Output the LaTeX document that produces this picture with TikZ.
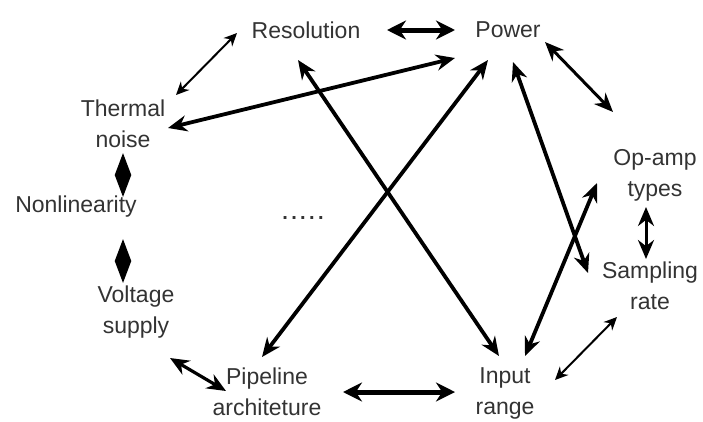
\documentclass[tikz,border=0pt]{standalone}
\usepackage{fontspec}
\setmainfont{Liberation Sans}
\usetikzlibrary{arrows.meta}
\begin{document}
\begin{tikzpicture}[x=1pt,y=-1pt,
  lbl/.style={text=black!80, font=\fontsize{23}{31}\selectfont, align=center, inner sep=0pt},
  heavy/.style={line width=5pt, {Stealth[length=19pt,width=19pt]}-{Stealth[length=19pt,width=19pt]}},
  bold/.style={line width=3.8pt, {Stealth[length=19pt,width=16pt]}-{Stealth[length=19pt,width=16pt]}},
  light/.style={line width=2pt, {Stealth[length=13pt,width=12pt]}-{Stealth[length=13pt,width=12pt]}},
  twin/.style={line width=2pt, {Stealth[length=22pt,width=16pt,inset=0pt]}-{Stealth[length=22pt,width=16pt,inset=0pt]}},
]
\useasboundingbox (0,0) rectangle (703,421);

% factors
\node[lbl] (res)  at (306,30)  {Resolution};
\node[lbl] (pow)  at (508,30)  {Power};
\node[lbl] (therm) at (123,124) {Thermal\\noise};
\node[lbl] (nonl) at (76,207)  {Nonlinearity};
\node[lbl] (volt) at (136,312) {Voltage\\supply};
\node[lbl] (pipe) at (267,392) {Pipeline\\architeture};
\node[lbl] (inp)  at (505,393) {Input\\range};
\node[lbl] (samp) at (650,286) {Sampling\\rate};
\node[lbl] (opamp) at (655,175) {Op-amp\\types};
\node[lbl, font=\bfseries\fontsize{20}{24}\selectfont] (more) at (303,218) {.\,.\,.\,.\,.};

% connector end points
\coordinate (resE) at (387,30);   \coordinate (powW) at (455,30);
\coordinate (resSW) at (237,33);  \coordinate (thermNE) at (176,95);
\coordinate (thermE) at (168,128); \coordinate (powSW) at (455,58);
\coordinate (resS) at (298,60);   \coordinate (inpNW) at (499,356);
\coordinate (pipeN) at (262,357); \coordinate (powS) at (488,60);
\coordinate (powSE) at (513,62);  \coordinate (sampNW) at (588,273);
\coordinate (inpN) at (525,356);  \coordinate (opampW) at (597,183);
\coordinate (powE) at (545,42);   \coordinate (opampNW) at (613,112);
\coordinate (opampS) at (646,207); \coordinate (sampN) at (646,259);
\coordinate (sampSW) at (617,317); \coordinate (inpE) at (555,380);
\coordinate (pipeE) at (343,392); \coordinate (inpW) at (455,392);
\coordinate (voltSE) at (170,358); \coordinate (pipeW) at (226,391);
\coordinate (thermS) at (123,153); \coordinate (nonlN) at (123,197);
\coordinate (nonlS) at (123,239); \coordinate (voltN) at (123,283);

% relations
\draw[heavy] (resE) -- (powW);
\draw[light] (resSW) -- (thermNE);
\draw[bold] (thermE) -- (powSW);
\draw[bold] (resS) -- (inpNW);
\draw[bold] (pipeN) -- (powS);
\draw[bold] (powSE) -- (sampNW);
\draw[bold] (inpN) -- (opampW);
\draw[bold, line width=3pt] (powE) -- (opampNW);
\draw[bold, line width=3pt] (opampS) -- (sampN);
\draw[light] (sampSW) -- (inpE);
\draw[heavy] (pipeE) -- (inpW);
\draw[bold, line width=3.2pt] (voltSE) -- (pipeW);
\draw[twin] (thermS) -- (nonlN);
\draw[twin] (nonlS) -- (voltN);
\end{tikzpicture}
\end{document}
